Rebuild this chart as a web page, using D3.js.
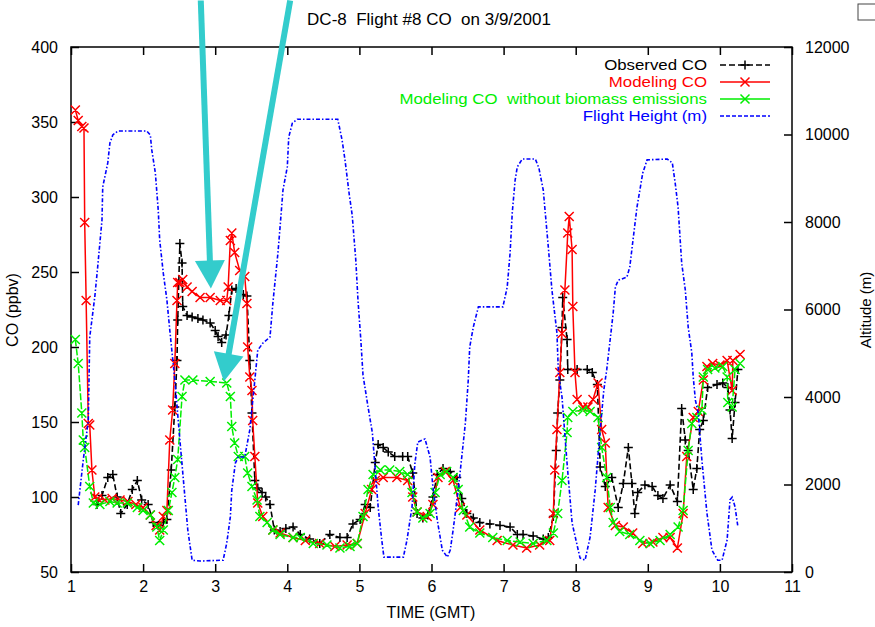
<!DOCTYPE html>
<html><head><meta charset="utf-8">
<script src="https://cdn.jsdelivr.net/npm/d3@7"></script>
<style>body{margin:0;background:#fff}svg{display:block}text{font-family:"Liberation Sans",Arial,Helvetica,sans-serif;white-space:pre}</style>
</head><body><svg id="c" width="875" height="627"></svg>
<script>
const xTicks=[1,2,3,4,5,6,7,8,9,10,11];
const yLeftTicks=[50,100,150,200,250,300,350,400];
const yRightTicks=[0,2000,4000,6000,8000,10000,12000];
const title="DC-8  Flight #8 CO  on 3/9/2001";
const seriesNames=["Observed CO","Modeling CO","Modeling CO  without biomass emissions","Flight Height (m)"];

const obsTime=[1.36,1.43,1.51,1.58,1.64,1.69,1.78,1.85,1.92,1.98,2.07,2.14,2.21,2.28,2.33,2.39,2.44,2.47,2.48,2.51,2.54,2.55,2.61,2.68,2.76,2.83,2.93,3.00,3.04,3.09,3.15,3.19,3.23,3.29,3.39,3.44,3.48,3.51,3.55,3.59,3.65,3.70,3.76,3.82,3.90,3.98,4.08,4.18,4.31,4.45,4.59,4.73,4.83,4.91,5.01,5.08,5.15,5.22,5.26,5.33,5.40,5.49,5.60,5.67,5.74,5.80,5.88,5.95,6.02,6.08,6.16,6.26,6.35,6.42,6.49,6.58,6.67,6.81,6.95,7.09,7.19,7.27,7.41,7.55,7.62,7.69,7.73,7.75,7.78,7.81,7.82,7.88,7.89,8.02,8.16,8.23,8.30,8.34,8.41,8.50,8.59,8.66,8.73,8.78,8.82,8.86,8.96,9.06,9.14,9.21,9.31,9.41,9.47,9.52,9.56,9.63,9.68,9.72,9.77,9.83,9.96,10.04,10.11,10.14,10.17,10.21,10.25];
const obsCO=[95,101,113,115,100,89,95,105,111,98,95,83,81,83,85,118,160,191,218,269,256,227,221,220,219,218,216,211,207,203,208,221,238,239,235,234,191,156,111,106,103,100,95,78,77,79,80,75,72,69,75,73,73,82,85,95,93,123,135,133,130,127,127,127,116,89,86,88,100,115,119,117,113,99,89,86,83,82,81,80,75,75,74,72,73,87,131,156,178,213,233,205,185,185,185,183,175,120,107,113,93,109,133,109,89,103,108,107,101,99,108,97,159,138,131,105,119,145,151,173,175,176,173,158,139,163,185];

const modTime=[1.06,1.10,1.15,1.18,1.19,1.21,1.24,1.26,1.29,1.33,1.37,1.47,1.57,1.68,1.79,1.90,2.00,2.10,2.18,2.23,2.28,2.33,2.37,2.41,2.44,2.47,2.48,2.51,2.55,2.61,2.68,2.79,2.93,3.07,3.16,3.18,3.21,3.23,3.27,3.34,3.41,3.44,3.45,3.48,3.51,3.52,3.55,3.59,3.66,3.80,3.90,4.08,4.25,4.45,4.66,4.83,4.97,5.08,5.17,5.22,5.33,5.52,5.67,5.74,5.80,5.94,6.02,6.09,6.19,6.30,6.40,6.49,6.67,6.91,7.13,7.32,7.50,7.64,7.69,7.71,7.74,7.78,7.81,7.85,7.89,7.91,7.95,7.96,7.99,8.02,8.10,8.17,8.24,8.31,8.36,8.41,8.45,8.55,8.66,8.79,8.93,9.07,9.21,9.31,9.41,9.49,9.54,9.63,9.70,9.77,9.82,9.90,10.00,10.10,10.17,10.18,10.28];
const modCO=[358,351,347,346,283,231,149,148,118,100,99,98,99,98,97,95,93,88,81,78,87,91,138,158,189,231,243,243,245,240,237,233,233,231,231,240,271,276,263,251,247,229,200,180,171,151,127,96,87,78,76,73,71,69,67,68,69,89,105,111,113,113,111,100,90,87,95,113,117,111,93,88,78,71,68,66,68,71,89,118,145,183,209,238,276,287,265,227,183,165,160,160,165,176,145,136,93,81,80,76,69,70,73,73,66,89,127,153,157,178,187,189,188,191,171,191,195];

const noBioTime=[1.06,1.10,1.15,1.17,1.19,1.26,1.31,1.40,1.54,1.64,1.78,1.92,2.00,2.10,2.19,2.23,2.28,2.35,2.40,2.44,2.48,2.54,2.58,2.69,2.93,3.16,3.21,3.23,3.27,3.32,3.41,3.45,3.51,3.58,3.62,3.72,3.80,3.90,4.08,4.18,4.36,4.55,4.73,4.87,4.97,5.05,5.12,5.19,5.29,5.42,5.56,5.67,5.73,5.80,5.88,5.98,6.05,6.12,6.21,6.30,6.37,6.44,6.53,6.67,6.85,7.05,7.23,7.41,7.60,7.69,7.75,7.81,7.88,7.89,7.96,8.10,8.20,8.31,8.36,8.43,8.48,8.52,8.61,8.75,8.89,9.03,9.17,9.31,9.42,9.49,9.56,9.61,9.68,9.75,9.77,9.83,9.93,10.04,10.10,10.11,10.17,10.21,10.28];
const noBioCO=[205,189,156,138,133,107,96,95,97,96,96,93,91,88,80,71,78,91,103,113,125,167,178,178,177,176,167,147,136,127,127,116,107,98,87,83,78,75,73,73,69,68,66,67,69,87,105,115,118,118,117,115,103,90,86,89,103,115,117,113,105,91,80,76,73,71,70,69,71,76,89,111,143,153,157,158,157,153,133,113,93,83,77,75,71,69,71,75,80,91,131,149,153,158,180,185,186,187,180,163,160,185,189];

const altTime=[1.10,1.17,1.24,1.26,1.33,1.37,1.43,1.44,1.51,1.54,1.58,1.65,2.05,2.10,2.12,2.17,2.21,2.23,2.28,2.33,2.37,2.44,2.51,2.58,2.62,2.68,2.79,3.11,3.16,3.21,3.23,3.28,3.32,3.41,3.48,3.55,3.59,3.66,3.76,3.80,3.87,3.90,3.94,4.00,4.02,4.07,4.14,4.70,4.76,4.80,4.86,4.90,4.95,4.98,5.02,5.05,5.12,5.18,5.22,5.26,5.31,5.34,5.61,5.66,5.73,5.77,5.81,5.91,5.98,6.02,6.08,6.15,6.22,6.26,6.30,6.37,6.42,6.47,6.51,6.53,6.58,6.65,6.99,7.05,7.09,7.12,7.16,7.19,7.26,7.44,7.49,7.55,7.62,7.67,7.74,7.76,7.81,7.88,7.95,8.06,8.13,8.20,8.27,8.34,8.39,8.43,8.52,8.55,8.59,8.71,8.75,8.80,8.85,8.89,8.93,8.99,9.27,9.34,9.38,9.42,9.47,9.52,9.56,9.61,9.63,9.66,9.70,9.75,9.82,9.89,9.97,10.03,10.10,10.14,10.17,10.21,10.25];
const altM=[1530,2560,3470,5370,6290,6970,8050,8800,9350,9810,9990,10080,10080,9990,9650,9120,8270,7590,6830,6220,5530,4390,3020,1710,960,270,250,270,660,1260,1870,2490,2630,2630,3250,4390,5070,5230,5370,6150,7290,7890,8730,9260,9940,10260,10350,10350,9870,9420,8620,8160,7130,6220,5300,4500,3770,3180,2330,1490,730,340,340,730,1490,2490,2970,3040,2630,1940,1190,500,340,500,960,1870,2630,3410,4390,5140,5600,6060,6060,6510,7290,8210,8960,9260,9440,9440,9230,8730,7430,6450,5460,4550,4000,2490,1120,320,270,800,1870,3250,4160,4620,5920,6510,6670,6740,6970,7660,8340,8730,9120,9420,9440,9350,8890,8340,7060,6450,5600,5010,4460,3930,3630,2560,1350,500,270,270,730,1650,1710,1490,1030];

// annotation arrows (time, CO ppbv)
const arrowFrom=[[2.80,431],[4.04,431]];
const arrowTo=[[2.94,239],[3.12,177]];

const L=71,R=792,T=47,B=572;
const svg=d3.select("#c");
const x=d3.scaleLinear().domain([1,11]).range([L,R]);
const yL=d3.scaleLinear().domain([50,400]).range([B,T]);
const yR=d3.scaleLinear().domain([0,12000]).range([B,T]);

// title
svg.append("text").attr("x",429).attr("y",25).attr("text-anchor","middle")
  .attr("font-size",17).text(title);

// axes
function style(g){g.select(".domain").remove();g.selectAll("line").attr("stroke","#000").attr("stroke-width",1.5);
  g.selectAll("text").attr("font-size",16).attr("fill","#000").style("font-family",'"Liberation Sans",Arial,sans-serif');}
svg.append("g").attr("transform",`translate(0,${B})`).call(d3.axisBottom(x).tickValues(xTicks).tickSize(-8).tickPadding(9).tickFormat(d3.format("d"))).call(style);
svg.append("g").attr("transform",`translate(0,${T})`).call(d3.axisTop(x).tickValues(xTicks).tickSize(-8).tickFormat("")).call(style);
svg.append("g").attr("transform",`translate(${L},0)`).call(d3.axisLeft(yL).tickValues(yLeftTicks).tickSize(-8).tickPadding(13).tickFormat(d3.format("d"))).call(style);
svg.append("g").attr("transform",`translate(${R},0)`).call(d3.axisRight(yR).tickValues(yRightTicks).tickSize(-8).tickPadding(13).tickFormat(d3.format("d"))).call(style);
svg.append("rect").attr("x",L).attr("y",T).attr("width",R-L).attr("height",B-T).attr("fill","none").attr("stroke","#000").attr("stroke-width",1.5);

svg.append("text").attr("x",431).attr("y",618).attr("text-anchor","middle").attr("font-size",16).text("TIME (GMT)");
svg.append("text").attr("transform","translate(18,310) rotate(-90)").attr("text-anchor","middle").attr("font-size",16).text("CO (ppbv)");
svg.append("text").attr("transform","translate(871,310) rotate(-90)").attr("text-anchor","middle").attr("font-size",15).text("Altitude (m)");

const plot=svg.append("g");
function plus(cx,cy,s){return `M${cx-s},${cy}H${cx+s}M${cx},${cy-s}V${cy+s}`;}
function cross(cx,cy,s){return `M${cx-s},${cy-s}L${cx+s},${cy+s}M${cx-s},${cy+s}L${cx+s},${cy-s}`;}

function series(ts,vs,ys,color,dash,marker,width){
  const pts=ts.map((t,i)=>[x(t),ys(vs[i])]);
  plot.append("path").attr("d",d3.line()(pts)).attr("fill","none").attr("stroke",color)
    .attr("stroke-width",width).attr("stroke-dasharray",dash);
  if(marker){
    plot.append("path").attr("d",pts.map(p=>marker(p[0],p[1],4.5)).join("")).attr("fill","none")
      .attr("stroke",color).attr("stroke-width",1.5);
  }
}
series(obsTime,obsCO,yL,"#000","6,3",plus,1.6);
series(modTime,modCO,yL,"#ff0000",null,cross,1.5);
series(noBioTime,noBioCO,yL,"#00ee00","7,2",cross,1.5);
series(altTime,altM,yR,"#0000ff","4,2,1.5,2",null,1.6);

// legend
const lg=svg.append("g");
const lgColors=["#000","#ff0000","#00ee00","#0000ff"];
const lgDash=["6,3",null,null,"4,2"];
const lgMark=[plus,cross,cross,null];
seriesNames.forEach((n,i)=>{
  const yy=65+i*17;
  const t=lg.append("text").attr("x",707).attr("y",yy+5).attr("text-anchor","end").attr("font-size",14.5).attr("fill",lgColors[i]).text(n);
  const w=t.node().getComputedTextLength();
  t.attr("textLength",w*1.16).attr("lengthAdjust","spacingAndGlyphs");
  lg.append("line").attr("x1",720).attr("x2",770).attr("y1",yy).attr("y2",yy).attr("stroke",lgColors[i]).attr("stroke-width",1.5).attr("stroke-dasharray",lgDash[i]);
  if(lgMark[i]) lg.append("path").attr("d",lgMark[i](745,yy,4.5)).attr("stroke",lgColors[i]).attr("stroke-width",1.5).attr("fill","none");
});

// annotation arrows
const ag=svg.append("g");
arrowFrom.forEach((f,i)=>{
  const x0=x(f[0]),y0=yL(f[1]),x1=x(arrowTo[i][0]),y1=yL(arrowTo[i][1]);
  const dx=x1-x0,dy=y1-y0,len=Math.hypot(dx,dy),ux=dx/len,uy=dy/len;
  const hl=28,hw=15;
  const bx=x1-ux*hl,by=y1-uy*hl;
  ag.append("line").attr("x1",x0).attr("y1",y0).attr("x2",bx+ux*2).attr("y2",by+uy*2).attr("stroke","#33cccc").attr("stroke-width",6);
  ag.append("path").attr("d",`M${x1},${y1}L${bx-uy*hw},${by+ux*hw}L${bx+uy*hw},${by-ux*hw}Z`).attr("fill","#33cccc");
});
// small box fragment at top right corner
svg.append("rect").attr("x",858).attr("y",4).attr("width",30).attr("height",16).attr("fill","none").attr("stroke","#444").attr("stroke-width",1);
</script></body></html>
